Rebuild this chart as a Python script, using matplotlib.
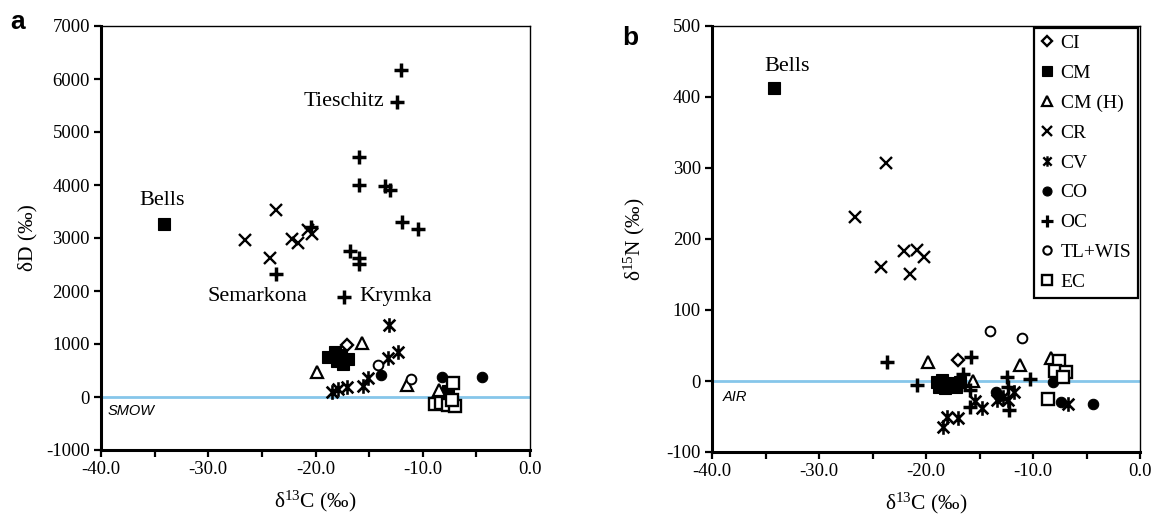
import matplotlib
matplotlib.use("Agg")
import matplotlib.pyplot as plt
from matplotlib.path import Path
from matplotlib.ticker import MultipleLocator, FuncFormatter

plt.rcParams['font.family'] = ['Liberation Serif', 'DejaVu Serif']
plt.rcParams['mathtext.fontset'] = 'custom'
plt.rcParams['mathtext.rm'] = 'Liberation Serif'
plt.rcParams['mathtext.it'] = 'Liberation Serif:italic'

# ---- panel a: d13C vs dD (permil) ----
a_CI = ([-17.1], [980])
a_CM = ([-34.1, -18.8, -18.2, -17.6, -17.0, -17.4, -18.0, -17.8, -7.6],
        [3260, 760, 840, 800, 720, 620, 680, 760, 120])
a_CMH = ([-15.7, -19.9, -11.5, -8.5], [1010, 470, 230, 130])
a_CR = ([-23.7, -26.6, -22.2, -21.6, -20.7, -20.3, -24.2],
        [3520, 2960, 2980, 2900, 3150, 3080, 2620])
a_CV = ([-13.15, -12.3, -13.25, -15.1, -15.6, -17.1, -17.9, -18.5],
        [1360, 850, 740, 360, 210, 190, 150, 90])
a_CO = ([-13.9, -8.2, -4.5], [415, 380, 380])
a_OC = ([-12.0, -12.4, -15.9, -15.9, -13.5, -13.1, -11.9, -10.4, -20.4,
         -16.8, -15.9, -15.9, -23.7, -17.3],
        [6170, 5570, 4530, 4000, 3990, 3900, 3300, 3170, 3200,
         2750, 2620, 2510, 2320, 1890])
a_TLW = ([-14.2, -11.1], [600, 340])
a_EC = ([-7.2, -8.9, -8.3, -7.6, -7.0, -7.3], [270, -130, -110, -150, -170, -60])

# ---- panel b: d13C vs d15N (permil) ----
b_CI = ([-17.0], [30])
b_CM = ([-34.2, -19.0, -18.5, -18.0, -17.5, -18.2, -17.2, -18.8, -16.8],
        [413, -2, 2, -5, -3, -10, -8, -8, -2])
b_CMH = ([-19.8, -15.6, -11.2, -8.3], [27, 0, 23, 33])
b_CR = ([-23.7, -26.6, -22.1, -20.8, -20.2, -24.2, -21.5],
        [307, 231, 183, 185, 175, 160, 151])
b_CV = ([-15.4, -14.8, -18.0, -17.0, -18.4, -12.8, -12.3, -11.8, -13.4, -6.7],
        [-28, -38, -50, -52, -65, -22, -27, -15, -27, -33])
b_CO = ([-13.5, -13.2, -8.1, -7.4, -4.4], [-15, -21, -1, -30, -33])
b_OC = ([-23.6, -15.8, -16.5, -20.8, -15.9, -15.9, -12.4, -12.3, -10.3, -12.2],
        [27, 34, 10, -5, -13, -37, 6, -8, 3, -41])
b_TLW = ([-14.0, -11.0], [70, 60])
b_EC = ([-7.6, -7.9, -6.9, -7.2, -8.6], [28, 14, 12, 5, -25])

group_names = ['CI', 'CM', 'CM (H)', 'CR', 'CV', 'CO', 'OC', 'TL+WIS', 'EC']

# asterisk-like marker: X with a vertical bar
cv_path = Path([(-1, -1), (1, 1), (-1, 1), (1, -1), (0, -1.25), (0, 1.25)],
               [Path.MOVETO, Path.LINETO, Path.MOVETO, Path.LINETO,
                Path.MOVETO, Path.LINETO])

styles = {
    'CI': dict(marker='D', ms=6.5, mfc='white', mec='black', mew=1.7),
    'CM': dict(marker='s', ms=8, mfc='black', mec='black', mew=0.8),
    'CM (H)': dict(marker='^', ms=8.5, mfc='white', mec='black', mew=1.6),
    'CR': dict(marker='x', ms=8.5, mfc='none', mec='black', mew=1.7),
    'CV': dict(marker=cv_path, ms=10.5, mfc='none', mec='black', mew=1.9),
    'CO': dict(marker='o', ms=7.5, mfc='black', mec='black', mew=0.8),
    'OC': dict(marker='+', ms=9.5, mfc='none', mec='black', mew=2.5),
    'TL+WIS': dict(marker='o', ms=7, mfc='white', mec='black', mew=1.4),
    'EC': dict(marker='s', ms=8, mfc='white', mec='black', mew=1.7),
}

legend_styles = {
    'CI': dict(marker='D', ms=5, mfc='white', mec='black', mew=1.7),
    'CM': dict(marker='s', ms=7, mfc='black', mec='black', mew=0.8),
    'CM (H)': dict(marker='^', ms=7, mfc='white', mec='black', mew=1.6),
    'CR': dict(marker='x', ms=7, mfc='none', mec='black', mew=1.7),
    'CV': dict(marker=cv_path, ms=7.5, mfc='none', mec='black', mew=1.7),
    'CO': dict(marker='o', ms=6.5, mfc='black', mec='black', mew=0.8),
    'OC': dict(marker='+', ms=8.5, mfc='none', mec='black', mew=2.3),
    'TL+WIS': dict(marker='o', ms=6, mfc='white', mec='black', mew=1.5),
    'EC': dict(marker='s', ms=6.5, mfc='white', mec='black', mew=1.7),
}

a_groups = [a_CI, a_CM, a_CMH, a_CR, a_CV, a_CO, a_OC, a_TLW, a_EC]
b_groups = [b_CI, b_CM, b_CMH, b_CR, b_CV, b_CO, b_OC, b_TLW, b_EC]

ref_color = '#86c6ea'

fig = plt.figure(figsize=(11.55, 5.23), dpi=100)
ax_a = fig.add_axes([101 / 1155, 1 - 450 / 523, 429 / 1155, 424 / 523])
ax_b = fig.add_axes([712 / 1155, 1 - 452 / 523, 428 / 1155, 426 / 523])


def style_axes(ax, ylim, ystep):
    ax.set_xlim(-40, 0)
    ax.set_ylim(*ylim)
    ax.xaxis.set_major_locator(MultipleLocator(10))
    ax.xaxis.set_minor_locator(MultipleLocator(5))
    ax.yaxis.set_major_locator(MultipleLocator(ystep))
    ax.xaxis.set_major_formatter(FuncFormatter(lambda v, p: f'{v:.1f}'))
    ax.yaxis.set_major_formatter(FuncFormatter(lambda v, p: f'{v:.0f}'))
    ax.tick_params(which='both', direction='out', length=5, width=1.6,
                   labelsize=13.5, top=False, right=False)
    ax.tick_params(axis='x', pad=3)
    ax.tick_params(axis='y', pad=3)
    for s in ('left', 'bottom'):
        ax.spines[s].set_linewidth(2.2)
    for s in ('top', 'right'):
        ax.spines[s].set_linewidth(1.0)
    ax.set_xlabel('δ$^{13}$C (‰)', fontsize=15.5, labelpad=8)


def draw_groups(ax, groups, zorder=3):
    for name, (xs, ys) in zip(group_names, groups):
        ax.plot(xs, ys, linestyle='none', zorder=zorder, **styles[name])


# panel a
ax_a.axhline(0, color=ref_color, lw=2, zorder=1)
draw_groups(ax_a, a_groups)
style_axes(ax_a, (-1000, 7000), 1000)
ax_a.set_ylabel('δD (‰)', fontsize=15.5, labelpad=6)
ax_a.text(-39.4, -270, 'SMOW', fontsize=10.5, style='italic',
          family=['Liberation Sans', 'DejaVu Sans'], va='center', ha='left')
ax_a.text(-34.3, 3700, 'Bells', fontsize=16, ha='center', va='center')
ax_a.text(-13.6, 5570, 'Tieschitz', fontsize=16, ha='right', va='center')
ax_a.text(-20.8, 1890, 'Semarkona', fontsize=16, ha='right', va='center')
ax_a.text(-15.9, 1890, 'Krymka', fontsize=16, ha='left', va='center')

# panel b
ax_b.axhline(0, color=ref_color, lw=2, zorder=1)
draw_groups(ax_b, b_groups)
style_axes(ax_b, (-100, 500), 100)
ax_b.set_ylabel('δ$^{15}$N (‰)', fontsize=15.5, labelpad=14)
ax_b.text(-39.0, -23, 'AIR', fontsize=10.5, style='italic',
          family=['Liberation Sans', 'DejaVu Sans'], va='center', ha='left')
ax_b.text(-33.0, 443, 'Bells', fontsize=16, ha='center', va='center')

handles = [plt.Line2D([], [], linestyle='none', **legend_styles[n]) for n in group_names]
leg = ax_b.legend(handles, group_names, loc='upper right',
                  bbox_to_anchor=(0.996, 0.996), borderaxespad=0,
                  fontsize=14, labelspacing=0.63, handlelength=0.7,
                  handletextpad=0.35, borderpad=0.35, fancybox=False,
                  framealpha=1, edgecolor='black')
leg.get_frame().set_linewidth(1.6)

fig.text(18 / 1155, 1 - 22 / 523, 'a', fontsize=19, fontweight='bold',
         family=['Liberation Sans', 'DejaVu Sans'], ha='center', va='center')
fig.text(630 / 1155, 1 - 38 / 523, 'b', fontsize=19, fontweight='bold',
         family=['Liberation Sans', 'DejaVu Sans'], ha='center', va='center')

fig.savefig('out.png', dpi=100)
